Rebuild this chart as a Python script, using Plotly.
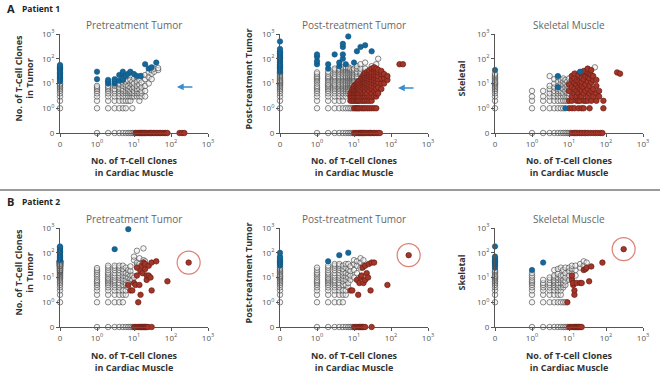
import plotly.graph_objects as go

# ---------------- DATA (counts; 0 = no clones, plotted on the broken "0" position) ----------------
# Panel A1: Patient 1, Pretreatment Tumor vs Cardiac
A1_AXIS_Y_GRAY = [1, 2, 3, 4, 5, 6, 7, 8, 9, 10]
A1_AXIS_Y_BLUE = [12, 14, 16, 18, 20, 22, 25, 28, 32, 36, 40, 45, 50, 56]
A1_AXIS_X_GRAY = [1, 2, 3, 4, 5, 6, 7, 8, 9, 10]
A1_AXIS_X_RED = [11, 12, 13, 14, 15, 16, 17, 18, 19, 20, 22, 24, 26, 28, 30, 33, 36, 40, 44, 48,
                 52, 58, 65, 72, 80, 170, 200, 230]
A1_GRAY = {1: [1, 2, 3, 4, 5, 6, 7, 8], 2: [1, 2, 3, 4, 5, 6, 7, 8], 3: [1, 2, 3, 4, 5, 6, 8, 9],
           4: [1, 2, 3, 4, 5, 6, 7, 9, 10], 5: [1, 2, 3, 4, 5, 6, 8, 11], 6: [1, 2, 3, 4, 5, 7, 9, 12],
           7: [2, 3, 4, 5, 6, 8, 13], 8: [2, 3, 4, 5, 7, 10, 14], 9: [1, 3, 4, 6, 9, 12],
           10: [3, 4, 5, 7, 10, 16], 12: [3, 4, 5, 6, 8, 12, 18], 14: [2, 3, 4, 6, 9, 14],
           16: [3, 4, 5, 7, 11, 20], 20: [3, 5, 8, 15, 22], 25: [10, 18, 28], 30: [15, 25, 35],
           35: [30, 40], 45: [35, 42]}
A1_BLUE = {1: [15, 30], 2: [10, 12, 14], 3: [10, 12, 15], 4: [13, 22], 5: [14, 16, 25, 30],
           6: [20], 7: [25], 8: [30], 10: [24], 12: [20], 15: [20], 20: [60], 25: [40],
           30: [45], 40: [70]}
A1_RED = {}

# Panel A2: Patient 1, Post-treatment Tumor vs Cardiac
A2_AXIS_Y_GRAY = [1, 2, 3, 4, 5, 6, 7, 8, 9, 10, 11, 12, 13, 14, 16, 18, 20, 22, 25, 28]
A2_AXIS_Y_BLUE = [30, 35, 40, 45, 50, 55, 60, 70, 80, 90, 100, 110, 120, 140, 160, 180, 200, 250, 500]
A2_AXIS_X_GRAY = [1, 2, 3, 4, 5, 6, 7, 8, 9]
A2_AXIS_X_RED = [10, 11, 12, 13, 14, 15, 16, 17, 18, 19, 20, 22, 24, 26, 28, 30, 33, 36, 40, 45, 50]
A2_GRAY = {1: [1, 2, 3, 4, 5, 6, 7, 8, 10, 12, 14, 16, 18, 20, 24, 28],
           2: [1, 2, 3, 4, 5, 6, 7, 8, 9, 10, 12, 14, 16, 18, 20, 25, 30],
           3: [1, 2, 3, 4, 5, 6, 7, 8, 9, 10, 12, 14, 16, 18, 20, 25, 30, 35, 40],
           4: [1, 2, 3, 4, 5, 6, 7, 8, 9, 10, 12, 14, 16, 18, 20, 25, 30, 35, 40],
           5: [1, 2, 3, 4, 5, 6, 7, 8, 9, 10, 12, 14, 16, 18, 20, 25, 30, 35, 40, 45],
           6: [1, 3, 4, 5, 6, 7, 8, 9, 10, 12, 14, 16, 18, 20, 25, 30, 35, 40, 45],
           7: [1, 4, 5, 6, 7, 8, 9, 10, 12, 14, 16, 18, 20, 25, 30, 35, 40, 45],
           8: [1, 6, 7, 8, 9, 10, 12, 14, 16, 18, 20, 25, 30, 35, 40],
           9: [1, 8, 9, 10, 12, 14, 16, 18, 20, 25, 30, 35],
           10: [12, 14, 16, 18, 20, 25, 30, 35, 40], 12: [16, 18, 20, 25, 30, 40, 50],
           15: [22, 25, 30, 40, 60], 20: [30, 40, 70], 30: [50], 40: [60], 45: [100]}
A2_BLUE = {1: [60, 80, 120, 150], 2: [40, 60], 3: [150], 4: [50, 70], 5: [100, 150, 300, 400],
           6: [60], 7: [800], 10: [70], 12: [200], 15: [300], 20: [350], 30: [200]}
A2_RED = {8: [2, 3, 4], 9: [2, 3, 4, 5, 6], 10: [1, 2, 3, 4, 5, 6, 8], 11: [1, 2, 3, 4, 5, 7, 9],
          12: [1, 2, 3, 4, 5, 6, 8, 10], 13: [1, 2, 3, 4, 6, 7, 9, 12],
          14: [1, 2, 3, 4, 5, 6, 8, 10, 13],
          16: [1, 2, 3, 4, 5, 7, 9, 11, 14, 17],
          18: [1, 2, 3, 4, 6, 8, 10, 12, 15, 19, 23],
          20: [1, 2, 3, 4, 5, 7, 9, 11, 14, 17, 21, 26],
          23: [1, 2, 3, 4, 6, 8, 10, 13, 16, 20, 25, 30],
          26: [1, 2, 3, 5, 7, 9, 12, 15, 19, 23, 28, 34],
          30: [1, 2, 3, 4, 6, 8, 11, 14, 18, 22, 27, 40],
          35: [1, 3, 5, 7, 10, 13, 17, 22, 28, 36, 45],
          40: [1, 3, 4, 6, 9, 12, 16, 21, 30, 40], 45: [4, 7, 11, 15, 20, 28, 36],
          55: [6, 10, 16, 24, 32], 65: [10, 16, 24], 80: [14, 20], 170: [60], 210: [60]}

# Panel A3: Patient 1, Skeletal Muscle vs Cardiac
A3_AXIS_Y_GRAY = [1, 2, 3, 4, 5, 6, 7, 8, 9, 10, 11, 12, 14, 16, 18, 20, 22, 25]
A3_AXIS_Y_BLUE = [35]
A3_AXIS_X_GRAY = [1, 2, 3, 4, 5, 6, 7, 8, 9, 10, 11, 13, 15, 17, 20, 24, 28, 34]
A3_AXIS_X_RED = [12, 14, 16, 19, 22, 26, 31, 38, 45, 52, 60, 70, 80]
A3_GRAY = {1: [1, 2, 3, 5], 2: [1, 2, 3, 5], 3: [1, 2, 3, 4, 6, 8, 20], 4: [1, 2, 3, 4, 5, 7, 10, 15],
           5: [1, 2, 3, 4, 5, 6, 8, 12, 18], 6: [1, 2, 3, 4, 5, 7, 10, 14], 7: [1, 2, 3, 4, 6, 9, 12, 16],
           8: [2, 3, 5, 7, 10, 14], 9: [2, 3, 4, 6, 8, 12], 10: [3, 4, 6, 10, 16],
           12: [3, 5, 8, 14, 20], 15: [6, 10, 25], 20: [8, 15, 20], 30: [25, 35], 50: [45]}
A3_BLUE = {5: [7, 20], 8: [1], 20: [30]}
A3_RED = {10: [1, 2, 5, 9], 12: [1, 2, 3, 7, 14, 20], 14: [1, 4, 6, 11, 16, 25],
          16: [2, 3, 5, 9, 13], 18: [1, 2, 4, 7, 12, 22], 20: [2, 3, 6, 10, 28],
          22: [1, 3, 5, 8, 12, 17], 25: [1, 2, 4, 7, 15, 25, 32], 28: [2, 5, 9, 19],
          32: [2, 3, 6, 12, 18, 28, 40], 36: [1, 4, 8, 16, 24], 40: [2, 5, 11, 22, 35],
          45: [3, 6, 14, 20], 55: [2, 4, 8, 14], 65: [3, 5], 85: [1, 2], 200: [28], 240: [25]}

# Panel B1: Patient 2, Pretreatment Tumor vs Cardiac
B1_AXIS_Y_GRAY = [1, 2, 3, 4, 5, 6, 7, 8, 9, 10, 11, 12, 13, 14, 15, 16, 17, 18, 19, 20, 21, 22, 23,
                  24, 25, 26, 27, 28, 29, 30, 31, 32, 33, 34, 35, 36, 37, 38, 39, 40, 41, 42, 43, 44,
                  45, 46, 47, 48, 20, 24, 28, 30, 32, 34, 36, 38, 40, 42, 44, 46, 48, 30, 35, 40, 45]
B1_AXIS_Y_BLUE = [50, 55, 60, 65, 70, 80, 90, 100, 110, 120, 140, 160, 180]
B1_AXIS_X_GRAY = [1, 2, 3, 4, 5, 6, 7, 8, 9]
B1_AXIS_X_RED = [10, 11, 12, 13, 14, 15, 16, 17, 18, 19, 20, 21, 22, 24, 30]
B1_GRAY = {1: [1, 2, 3, 4, 5, 6, 7, 8, 10, 12, 14, 17, 20, 24],
           2: [1, 2, 3, 4, 5, 6, 7, 8, 9, 10, 12, 14, 16, 20, 25, 30],
           3: [1, 2, 3, 4, 5, 6, 7, 8, 10, 12, 15, 20, 25, 30],
           4: [1, 2, 3, 4, 5, 6, 8, 10, 12, 15, 20, 25, 30], 5: [1, 2, 3, 5, 7, 9, 12, 16, 22, 30],
           6: [2, 3, 5, 6, 8, 11, 15, 25], 7: [4, 6, 10, 14, 20], 8: [9, 12, 18, 28], 9: [8, 12],
           10: [10, 50, 70], 12: [30, 40, 120], 14: [35, 60], 18: [50, 150], 20: [45]}
B1_BLUE = {3: [140], 7: [900]}
B1_RED = {7: [5], 8: [3], 9: [3], 10: [6], 11: [5], 12: [12, 25], 13: [1], 14: [5], 15: [2, 18],
          16: [30], 17: [15], 18: [40], 20: [22, 35], 22: [8, 12], 25: [12, 30], 28: [10],
          30: [3, 40], 40: [45], 80: [7], 300: [40]}
B1_CIRCLED = [(300, 40)]

# Panel B2: Patient 2, Post-treatment Tumor vs Cardiac
B2_AXIS_Y_GRAY = [1, 2, 3, 4, 5, 6, 7, 8, 9, 10, 11, 12, 14, 16, 18, 20, 22, 25]
B2_AXIS_Y_BLUE = [30, 35, 40, 45, 50, 60, 70, 100]
B2_AXIS_X_GRAY = [1, 2, 3, 4, 5, 6, 7, 8, 9]
B2_AXIS_X_RED = [10, 11, 12, 13, 14, 15, 16, 17, 18, 20, 30]
B2_GRAY = {1: [1, 2, 3, 4, 5, 6, 7, 8, 10, 12, 14, 16, 20, 25],
           2: [1, 2, 3, 4, 5, 6, 7, 8, 9, 10, 12, 14, 16, 20, 25, 30],
           3: [1, 2, 3, 4, 5, 6, 7, 8, 10, 12, 15, 20, 25, 30, 35],
           4: [1, 2, 3, 4, 5, 6, 8, 10, 12, 15, 20, 25, 30, 35], 5: [1, 2, 3, 5, 7, 9, 12, 16, 22, 30],
           6: [2, 3, 5, 8, 11, 15, 25, 35], 7: [4, 6, 10, 14, 20, 35], 8: [8, 12, 18, 28],
           10: [10, 20, 35, 50], 12: [15, 30, 45], 15: [25, 40, 60], 18: [30, 50]}
B2_BLUE = {2: [45], 4: [80], 7: [100]}
B2_RED = {8: [3], 9: [3], 12: [8], 13: [2], 14: [6], 15: [10], 16: [12], 17: [25], 18: [6],
          20: [8, 30], 22: [15], 24: [10], 25: [35], 28: [3], 30: [40], 35: [40], 80: [5], 300: [80]}
B2_CIRCLED = [(300, 80)]

# Panel B3: Patient 2, Skeletal Muscle vs Cardiac
B3_AXIS_Y_GRAY = [1, 2, 3, 4, 5, 6, 7, 8, 9, 10, 11, 12, 14, 16, 18, 20]
B3_AXIS_Y_BLUE = [25, 30, 35, 40, 45, 50, 60, 70, 180]
B3_AXIS_X_GRAY = [1, 2, 3, 4, 5, 6, 7, 8, 9]
B3_AXIS_X_RED = [10, 11, 12, 13, 14, 15, 16, 17, 18, 19, 20, 22]
B3_GRAY = {1: [1, 2, 3, 4, 5, 6, 7, 8, 10, 12, 15], 2: [1, 2, 3, 4, 5, 6, 8],
           3: [1, 2, 3, 4, 5, 6, 8, 10], 4: [1, 2, 3, 4, 5, 6, 7, 8, 10, 12, 20],
           5: [1, 2, 3, 4, 5, 6, 8, 10, 14, 22], 6: [1, 2, 3, 4, 6, 8, 10, 12, 25],
           7: [1, 4, 5, 6, 8, 12, 20], 8: [1, 5, 7, 10, 15, 25], 10: [8, 12, 18, 25],
           12: [10, 15, 22, 30], 15: [12, 20, 30], 20: [25, 35], 25: [30, 45], 30: [40]}
B3_BLUE = {1: [20], 2: [40]}
B3_RED = {9: [1], 12: [8, 12], 13: [5, 6], 14: [2, 3], 16: [6], 20: [6], 22: [6], 25: [20],
          28: [22], 30: [25], 35: [7], 40: [28], 80: [40], 300: [140]}
B3_CIRCLED = [(300, 140)]

TICK_VALUES = [0, 1, 10, 100, 1000]
TICK_TEXT = ["0", "10<sup>0</sup>", "10<sup>1</sup>", "10<sup>2</sup>", "10<sup>3</sup>"]

PANEL_TITLES = ["Pretreatment Tumor", "Post-treatment Tumor", "Skeletal Muscle"] * 2
Y_TITLES = ["No. of T-Cell Clones<br>in Tumor", "Post-treatment Tumor", "Skeletal"] * 2
X_TITLE = "No. of T-Cell Clones<br>in Cardiac Muscle"

# ---------------- STYLE ----------------
W, H = 660, 384
ZERO_POS = 0.1  # display position of the "0" break on the log axes (one decade below 1)
GRAY_FILL, GRAY_LINE = "rgba(236,236,236,0.55)", "rgba(55,55,55,0.58)"
BLUE = "#15679a"
RED = "#a53528"
FONT = "Open Sans"

# panel geometry in pixels: (x_left, x_right, y_top, y_bottom)
X_SPANS = [(60, 208), (280, 428), (495, 643)]
Y_SPANS = [(34, 133), (228, 327)]


def z(v):
    return ZERO_POS if v == 0 else v


def flatten(d):
    xs, ys = [], []
    for x, yl in d.items():
        for y in yl:
            xs.append(z(x))
            ys.append(z(y))
    return xs, ys


panels = [
    (A1_AXIS_Y_GRAY, A1_AXIS_Y_BLUE, A1_AXIS_X_GRAY, A1_AXIS_X_RED, A1_GRAY, A1_BLUE, A1_RED, []),
    (A2_AXIS_Y_GRAY, A2_AXIS_Y_BLUE, A2_AXIS_X_GRAY, A2_AXIS_X_RED, A2_GRAY, A2_BLUE, A2_RED, []),
    (A3_AXIS_Y_GRAY, A3_AXIS_Y_BLUE, A3_AXIS_X_GRAY, A3_AXIS_X_RED, A3_GRAY, A3_BLUE, A3_RED, []),
    (B1_AXIS_Y_GRAY, B1_AXIS_Y_BLUE, B1_AXIS_X_GRAY, B1_AXIS_X_RED, B1_GRAY, B1_BLUE, B1_RED, B1_CIRCLED),
    (B2_AXIS_Y_GRAY, B2_AXIS_Y_BLUE, B2_AXIS_X_GRAY, B2_AXIS_X_RED, B2_GRAY, B2_BLUE, B2_RED, B2_CIRCLED),
    (B3_AXIS_Y_GRAY, B3_AXIS_Y_BLUE, B3_AXIS_X_GRAY, B3_AXIS_X_RED, B3_GRAY, B3_BLUE, B3_RED, B3_CIRCLED),
]

fig = go.Figure()
layout = dict(width=W, height=H, margin=dict(l=0, r=0, t=0, b=0), paper_bgcolor="white",
              plot_bgcolor="rgba(0,0,0,0)", showlegend=False, font=dict(family=FONT))
annotations = []

gray_m = dict(size=5.5, color=GRAY_FILL, line=dict(color=GRAY_LINE, width=1))
blue_m = dict(size=5.5, color=BLUE, line=dict(color="#0f5079", width=0.5))
red_m = dict(size=5.5, color=RED, line=dict(color="#6a1e16", width=0.7))

for i, p in enumerate(panels):
    ay_gray, ay_blue, ax_gray, ax_red, gray, blue, red, circled = p
    n = i + 1
    xa = "x" if n == 1 else f"x{n}"
    ya = "y" if n == 1 else f"y{n}"
    col, row = i % 3, i // 3
    xl, xr = X_SPANS[col]
    yt, yb = Y_SPANS[row]

    def add(xs, ys, m):
        fig.add_trace(go.Scatter(x=xs, y=ys, mode="markers", marker=m, xaxis=xa, yaxis=ya,
                                 cliponaxis=False, hoverinfo="skip"))

    gx, gy = flatten(gray)
    add([z(0)] * len(ay_gray) + [z(v) for v in ax_gray] + gx,
        [z(v) for v in ay_gray] + [z(0)] * len(ax_gray) + gy, gray_m)
    rx, ry = flatten(red)
    add([z(v) for v in ax_red] + rx, [z(0)] * len(ax_red) + ry, red_m)
    bx, by = flatten(blue)
    add([z(0)] * len(ay_blue) + bx, [z(v) for v in ay_blue] + by, blue_m)
    if circled:
        add([c[0] for c in circled], [c[1] for c in circled],
            dict(size=23, symbol="circle-open", color="#dd8276", line=dict(width=1.2)))

    axis_common = dict(type="log", range=[-1, 3], tickvals=[z(v) for v in TICK_VALUES],
                       ticktext=TICK_TEXT, showline=True, linecolor="#555", linewidth=1,
                       ticks="outside", ticklen=3, tickcolor="#555", tickwidth=1,
                       tickfont=dict(size=8, color="#555", family=FONT),
                       showgrid=False, zeroline=False, fixedrange=True, automargin=False)
    layout["xaxis" if n == 1 else f"xaxis{n}"] = dict(axis_common, domain=[xl / W, xr / W],
                                                       anchor=ya)
    layout["yaxis" if n == 1 else f"yaxis{n}"] = dict(axis_common, domain=[1 - yb / H, 1 - yt / H],
                                                       anchor=xa)

    cx = (xl + xr) / 2
    annotations.append(dict(text=PANEL_TITLES[i], x=cx / W, y=1 - (yt - 9) / H, xref="paper",
                            yref="paper", showarrow=False, xanchor="center", yanchor="middle",
                            font=dict(size=10, color="#666", family=FONT)))
    annotations.append(dict(text=X_TITLE, x=cx / W, y=1 - (yb + 34) / H, xref="paper",
                            yref="paper", showarrow=False, xanchor="center", yanchor="middle",
                            font=dict(size=9, color="#333", family=FONT, weight="bold")))
    ytx = [24, 248, 461][col]
    annotations.append(dict(text=Y_TITLES[i], x=ytx / W, y=1 - ((yt + yb) / 2 - 5) / H,
                            xref="paper", yref="paper", showarrow=False, textangle=-90,
                            xanchor="center", yanchor="middle",
                            font=dict(size=9, color="#333", family=FONT, weight="bold")))

# blue arrows (Patient 1, tumor panels)
for xa, ya, hx, hy in [("x", "y", 2.16, 0.86), ("x2", "y2", 2.19, 0.82)]:
    annotations.append(dict(x=hx, y=hy, xref=xa, yref=ya, text="", showarrow=True, arrowhead=2,
                            arrowsize=0.9, arrowwidth=1.5, arrowcolor="#3a8ccc", ax=17, ay=0,
                            axref="pixel", ayref="pixel"))

# panel labels
annotations.append(dict(text="<b>A</b>", x=5 / W, y=1 - 8 / H, xref="paper", yref="paper",
                        showarrow=False, xanchor="left", yanchor="middle",
                        font=dict(size=11, color="#222", family=FONT)))
annotations.append(dict(text="<b>Patient 1</b>", x=20 / W, y=1 - 8 / H, xref="paper", yref="paper",
                        showarrow=False, xanchor="left", yanchor="middle",
                        font=dict(size=8.5, color="#222", family=FONT)))
annotations.append(dict(text="<b>B</b>", x=5 / W, y=1 - 201 / H, xref="paper", yref="paper",
                        showarrow=False, xanchor="left", yanchor="middle",
                        font=dict(size=11, color="#222", family=FONT)))
annotations.append(dict(text="<b>Patient 2</b>", x=20 / W, y=1 - 201 / H, xref="paper", yref="paper",
                        showarrow=False, xanchor="left", yanchor="middle",
                        font=dict(size=8.5, color="#222", family=FONT)))

layout["annotations"] = annotations
layout["shapes"] = [dict(type="line", xref="paper", yref="paper", x0=0, x1=1,
                         y0=1 - 190 / H, y1=1 - 190 / H, line=dict(color="#9a9a9a", width=2))]
fig.update_layout(**layout)
fig.write_html("out.html", config={"displayModeBar": False},
               post_script="document.body.style.margin='0';")
